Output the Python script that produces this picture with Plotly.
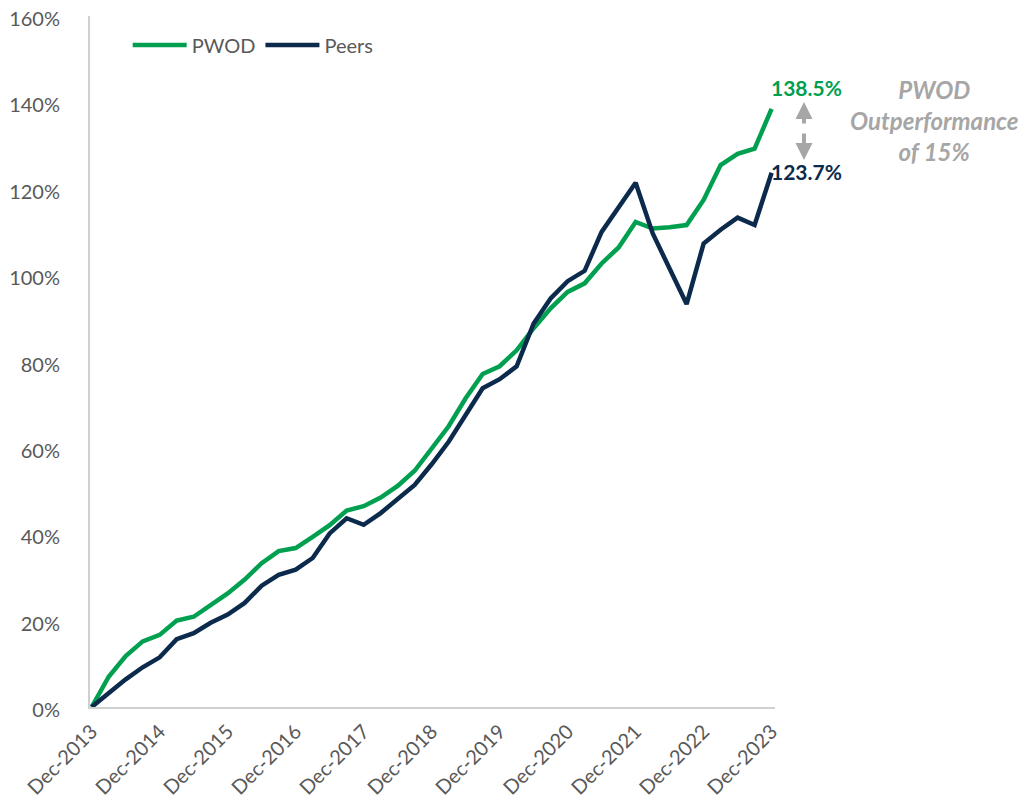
import plotly.graph_objects as go

# quarter labels, Dec-2013 .. Dec-2023
months = ["Mar", "Jun", "Sep", "Dec"]
quarters = ["Dec-2013"] + [f"{m}-{y}" for y in range(2014, 2024) for m in months]
year_ticks = [f"Dec-{y}" for y in range(2013, 2024)]

# cumulative total return, %
pwod = [0, 7.0, 11.8, 15.2, 16.7, 20.0, 20.9, 23.6, 26.3, 29.5,
        33.3, 36.1, 36.8, 39.4, 42.1, 45.5, 46.5, 48.5, 51.2, 54.7,
        59.9, 65.0, 71.5, 77.1, 78.9, 82.6, 87.7, 92.3, 96.1, 98.1,
        102.7, 106.4, 112.3, 110.8, 111.1, 111.6, 117.4, 125.5, 128.1, 129.3,
        138.5]
peers = [0, 3.2, 6.4, 9.2, 11.5, 15.7, 17.1, 19.5, 21.4, 24.1,
         28.1, 30.6, 31.8, 34.5, 40.2, 43.7, 42.2, 44.9, 48.0, 51.4,
         56.2, 61.4, 67.6, 73.8, 75.9, 78.9, 88.8, 94.6, 98.6, 101.0,
         110.0, 115.8, 121.4, 109.7, 101.5, 93.3, 107.3, 110.5, 113.3, 111.6,
         123.7]

GREEN = "#00A050"
NAVY = "#0C2A4C"
GREY = "#A6A6A6"
TXT = "#595959"
FONT = "Lato, Open Sans, sans-serif"

fig = go.Figure()
fig.add_trace(go.Scatter(x=quarters, y=pwod, name="PWOD", mode="lines",
                         line=dict(color=GREEN, width=4.5)))
fig.add_trace(go.Scatter(x=quarters, y=peers, name="Peers", mode="lines",
                         line=dict(color=NAVY, width=4.5)))

# end-point labels
fig.add_annotation(x=quarters[-1], y=pwod[-1], text=f"<b>{pwod[-1]:.1f}%</b>",
                   showarrow=False, xanchor="left", yanchor="middle",
                   xshift=-3, yshift=21, font=dict(color=GREEN, size=21, family=FONT))
fig.add_annotation(x=quarters[-1], y=peers[-1], text=f"<b>{peers[-1]:.1f}%</b>",
                   showarrow=False, xanchor="left", yanchor="middle",
                   xshift=-3, yshift=1, font=dict(color=NAVY, size=21, family=FONT))

# outperformance arrows (up and down, with a small gap between)
fig.add_annotation(xref="paper", yref="paper", x=1.0423, y=0.8755, ax=0, ay=23,
                   text="", showarrow=True, arrowhead=2, arrowsize=0.85,
                   arrowwidth=4, arrowcolor=GREY)
fig.add_annotation(xref="paper", yref="paper", x=1.0423, y=0.7916, ax=0, ay=-28,
                   text="", showarrow=True, arrowhead=2, arrowsize=0.85,
                   arrowwidth=4, arrowcolor=GREY)
fig.add_annotation(xref="paper", yref="paper", x=1.232, y=0.849,
                   text="<b><i>PWOD<br>Outperformance<br>of 15%</i></b>",
                   showarrow=False, align="center", xanchor="center", yanchor="middle",
                   font=dict(color=GREY, size=24, family=FONT))

# the page body adds an 8px margin, so the figure is 8px smaller each way
fig.update_layout(
    width=1021, height=796,
    margin=dict(l=82, r=254, t=8, b=97, autoexpand=False),
    plot_bgcolor="white", paper_bgcolor="white",
    font=dict(family=FONT, color=TXT, size=20),
    legend=dict(orientation="h", x=0.055, y=0.958, xanchor="left", yanchor="middle",
                itemwidth=54, font=dict(size=20, color=TXT), bgcolor="rgba(0,0,0,0)"),
    xaxis=dict(type="category", range=[-0.1, 40.2], tickmode="array",
               tickvals=year_ticks, ticktext=year_ticks, tickangle=-45,
               showgrid=False, showline=True, linecolor="#D0D0D0", linewidth=2,
               ticks="outside", ticklen=3, tickcolor="rgba(0,0,0,0)",
               automargin=False, tickfont=dict(size=20, color=TXT)),
    yaxis=dict(range=[0, 160], dtick=20, ticksuffix="%", showgrid=False,
               showline=True, linecolor="#D0D0D0", linewidth=2, zeroline=False,
               ticks="outside", ticklen=24, tickcolor="rgba(0,0,0,0)",
               ticklabeloverflow="allow", ticklabelshift=3,
               automargin=False, tickfont=dict(size=20, color=TXT)),
)

fig.write_html("out.html")
